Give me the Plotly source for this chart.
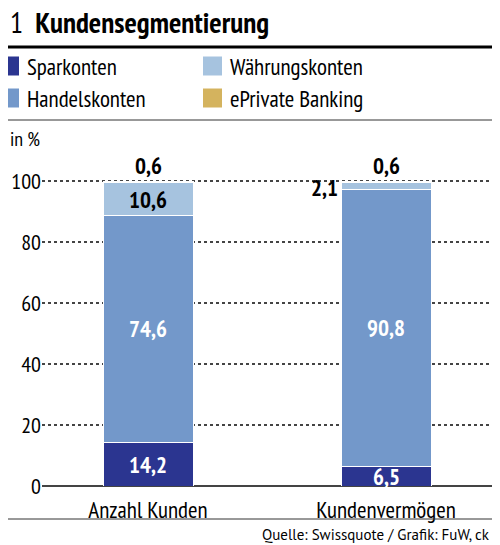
import plotly.graph_objects as go

categories = ["Anzahl Kunden", "Kundenvermögen"]
series_names = ["Sparkonten", "Handelskonten", "Währungskonten", "ePrivate Banking"]
sparkonten = [14.2, 6.5]
handelskonten = [74.6, 90.8]
waehrungskonten = [10.6, 2.1]
eprivate = [0.6, 0.6]
y_ticks = [0, 20, 40, 60, 80, 100]

colors = ["#2B3590", "#7398CA", "#A6C3DF", "#D4B35E"]
FONT = "PT Sans Narrow, Roboto Condensed, Fira Sans Condensed, sans-serif"
FONT_SRC = "PT Sans, Open Sans, sans-serif"

OFF = 8  # page body margin
W, H = 500 - 2 * OFF, 545 - OFF
ML, MR, MT, MB = 34, 0, 142, 59
PW, PH = W - ML - MR, H - MT - MB

def px_x(p):  # reference pixel -> paper x (clamped to the visible figure)
    return (min(max(p - OFF, 0), W) - ML) / PW

def px_y(p):  # reference pixel -> paper y
    return (H - MB - (p - OFF)) / PH

# x-axis range so that the two bar centres land where the reference has them
c0, c1 = 148 - OFF - ML, 386 - OFF - ML
unit = c1 - c0
x_range = [-c0 / unit, (PW - c0) / unit]
bar_w = 90 / unit

fig = go.Figure()
values = [sparkonten, handelskonten, waehrungskonten, eprivate]
for name, vals, col in zip(series_names, values, colors):
    fig.add_trace(go.Bar(
        x=[0, 1], y=vals, name=name, width=bar_w,
        marker=dict(color=col, line=dict(color="white", width=1)),
        showlegend=False, hoverinfo="skip",
    ))

ann = []
fmt = lambda v: f"{v:.1f}".replace(".", ",")
LBL = 23
for i in range(2):
    base = 0
    for vals in (sparkonten, handelskonten):
        v = vals[i]
        ann.append(dict(x=i, y=base + v / 2, text=f"<b>{fmt(v)}</b>", showarrow=False,
                        font=dict(color="white", size=LBL, family=FONT)))
        base += v
    v = waehrungskonten[i]
    if i == 0:
        ann.append(dict(x=i, y=base + v / 2, text=f"<b>{fmt(v)}</b>", showarrow=False,
                        font=dict(color="black", size=LBL, family=FONT)))
    else:
        ann.append(dict(x=i - bar_w / 2, y=base + v / 2, text=f"<b>{fmt(v)}</b>", showarrow=False,
                        xanchor="right", xshift=-1, yshift=-1,
                        font=dict(color="black", size=LBL, family=FONT)))
    base += v
    v = eprivate[i]
    ann.append(dict(x=i, y=base + v, text=f"<b>{fmt(v)}</b>", showarrow=False,
                    yanchor="bottom", yshift=-1,
                    font=dict(color="black", size=LBL, family=FONT)))

# Title
ann.append(dict(xref="paper", yref="paper", x=px_x(0), y=px_y(22), xanchor="left", yanchor="middle",
                text="1&nbsp;&nbsp;<b>Kundensegmentierung</b>", showarrow=False,
                font=dict(size=29, color="black", family=FONT)))
# Legend
leg_pos = [(0, 66), (0, 98), (203, 66), (203, 98)]
shapes = []
for idx, (lx, ly) in enumerate(leg_pos):
    shapes.append(dict(type="rect", xref="paper", yref="paper",
                       x0=px_x(lx), x1=px_x(lx + 19), y0=px_y(ly - 9.5), y1=px_y(ly + 9.5),
                       fillcolor=colors[idx], line=dict(width=0)))
    ann.append(dict(xref="paper", yref="paper", x=px_x(lx + 25), y=px_y(ly), xanchor="left",
                    yanchor="middle", text=series_names[idx], showarrow=False,
                    font=dict(size=23, color="black", family=FONT)))
# in %
ann.append(dict(xref="paper", yref="paper", x=px_x(0), y=px_y(139), xanchor="left", yanchor="middle",
                text="in %", showarrow=False, font=dict(size=20, color="black", family=FONT)))
# Source
ann.append(dict(xref="paper", yref="paper", x=px_x(500), y=px_y(534), xanchor="right", yanchor="middle",
                text="Quelle: Swissquote / Grafik: FuW, ck", showarrow=False,
                font=dict(size=15, color="black", family=FONT_SRC)))

# Lines
shapes.append(dict(type="line", xref="paper", yref="paper", x0=px_x(0), x1=px_x(500),
                   y0=px_y(47), y1=px_y(47), line=dict(color="black", width=3)))
shapes.append(dict(type="line", xref="paper", yref="paper", x0=px_x(0), x1=px_x(500),
                   y0=px_y(120), y1=px_y(120), line=dict(color="#333333", width=1)))
shapes.append(dict(type="line", xref="paper", yref="paper", x0=px_x(0), x1=px_x(500),
                   y0=px_y(519), y1=px_y(519), line=dict(color="#333333", width=1)))

fig.update_layout(
    width=W, height=H, margin=dict(l=ML, r=MR, t=MT, b=MB, pad=0),
    barmode="stack", plot_bgcolor="white", paper_bgcolor="white",
    font=dict(family=FONT, color="black", size=21),
    annotations=ann, shapes=shapes, showlegend=False,
    xaxis=dict(range=x_range, tickvals=[0, 1], ticktext=categories,
               showgrid=False, zeroline=False, showline=False, ticks="outside",
               ticklen=3, tickcolor="rgba(0,0,0,0)", automargin=False,
               tickfont=dict(size=23, color="black"), fixedrange=True),
    yaxis=dict(range=[0, PH / 3.05], tickvals=y_ticks, ticktext=[str(t) for t in y_ticks],
               showgrid=True, gridcolor="#444444", gridwidth=1.5, griddash="dot",
               zeroline=True, zerolinecolor="#444444", zerolinewidth=2,
               ticks="", automargin=False,
               tickfont=dict(size=22, color="black"), fixedrange=True),
)

fig.write_html("out.html")
